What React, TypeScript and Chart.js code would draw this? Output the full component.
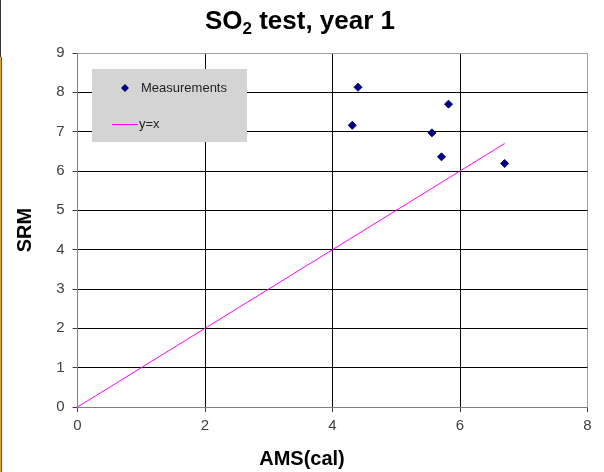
import React, { useEffect, useRef } from "react";
import { Chart, registerables } from "chart.js";

Chart.register(...registerables);

const TITLE_MAIN = "SO";
const TITLE_SUB = "2";
const TITLE_REST = " test, year 1";
const X_TITLE = "AMS(cal)";
const Y_TITLE = "SRM";
const SERIES_MEAS = "Measurements";
const SERIES_LINE = "y=x";

const measX = [4.31, 4.4, 5.56, 5.71, 5.82, 6.7];
const measY = [7.16, 8.13, 6.97, 6.36, 7.7, 6.19];
const lineX = [0, 6.7];
const lineY = [0, 6.7];

const X_MIN = 0, X_MAX = 8, X_STEP = 2;
const Y_MIN = 0, Y_MAX = 9, Y_STEP = 1;

const FONT = 'Arial, "Liberation Sans", sans-serif';

export default function App() {
  const ref = useRef<HTMLCanvasElement | null>(null);

  useEffect(() => {
    const canvas = ref.current;
    if (!canvas) return;

    const decor = {
      id: "decor",
      afterDraw(chart: any) {
        const ctx = chart.ctx as CanvasRenderingContext2D;
        ctx.save();
        // Title
        ctx.fillStyle = "#000";
        ctx.textBaseline = "alphabetic";
        ctx.textAlign = "left";
        const big = `bold 26px ${FONT}`;
        const small = `bold 17px ${FONT}`;
        ctx.font = big;
        const w1 = ctx.measureText(TITLE_MAIN).width;
        const w3 = ctx.measureText(TITLE_REST).width;
        ctx.font = small;
        const w2 = ctx.measureText(TITLE_SUB).width;
        const total = w1 + w2 + w3;
        let x = 300 - total / 2;
        ctx.font = big;
        ctx.fillText(TITLE_MAIN, x, 29);
        x += w1;
        ctx.font = small;
        ctx.fillText(TITLE_SUB, x, 34);
        x += w2;
        ctx.font = big;
        ctx.fillText(TITLE_REST, x, 29);

        // Axis titles
        ctx.font = `bold 20px ${FONT}`;
        ctx.textAlign = "center";
        ctx.fillText(X_TITLE, 302, 465);
        ctx.save();
        ctx.translate(31, 230);
        ctx.rotate(-Math.PI / 2);
        ctx.fillText(Y_TITLE, 0, 0);
        ctx.restore();

        // Legend
        ctx.fillStyle = "#d4d4d4";
        ctx.fillRect(92, 69, 155, 73);
        ctx.fillStyle = "#000080";
        ctx.beginPath();
        ctx.moveTo(125, 84);
        ctx.lineTo(129, 88);
        ctx.lineTo(125, 92);
        ctx.lineTo(121, 88);
        ctx.closePath();
        ctx.fill();
        ctx.strokeStyle = "#ff00ff";
        ctx.lineWidth = 1;
        ctx.beginPath();
        ctx.moveTo(112, 124.5);
        ctx.lineTo(138, 124.5);
        ctx.stroke();
        ctx.fillStyle = "#222";
        ctx.font = `13px ${FONT}`;
        ctx.textAlign = "left";
        ctx.textBaseline = "middle";
        ctx.fillText(SERIES_MEAS, 141, 88);
        ctx.fillText(SERIES_LINE, 139, 124);
        ctx.restore();
      },
    };

    const chart = new Chart(canvas, {
      type: "scatter",
      data: {
        datasets: [
          {
            label: SERIES_MEAS,
            data: measX.map((v, i) => ({ x: v, y: measY[i] })),
            pointStyle: "rectRot",
            pointRadius: 4,
            backgroundColor: "#000080",
            borderColor: "#000080",
            borderWidth: 1,
          },
          {
            label: SERIES_LINE,
            data: lineX.map((v, i) => ({ x: v, y: lineY[i] })),
            showLine: true,
            borderColor: "#ff00ff",
            borderWidth: 1,
            pointRadius: 0,
          },
        ],
      },
      options: {
        responsive: false,
        animation: false,
        events: [],
        layout: { padding: { top: 53, right: 16.5, left: 0, bottom: 0 } },
        plugins: {
          legend: { display: false },
          title: { display: false },
          tooltip: { enabled: false },
        },
        scales: {
          x: {
            type: "linear",
            min: X_MIN,
            max: X_MAX,
            ticks: {
              stepSize: X_STEP,
              color: "#404040",
              font: { family: FONT, size: 15 },
              padding: 5,
              maxRotation: 0,
            },
            grid: {
              color: (c: any) =>
                c.tick && (c.tick.value === X_MAX) ? "#a0a0a0" : c.tick && c.tick.value === X_MIN ? "#808080" : "#000",
              tickColor: "#404040",
              tickLength: 5,
            },
            border: { color: "#808080" },
            afterFit: (s: any) => {
              s.height = 65;
            },
          },
          y: {
            type: "linear",
            min: Y_MIN,
            max: Y_MAX,
            ticks: {
              stepSize: Y_STEP,
              color: "#404040",
              font: { family: FONT, size: 15 },
              padding: 8,
            },
            grid: {
              color: (c: any) =>
                c.tick && (c.tick.value === Y_MAX) ? "#a0a0a0" : c.tick && c.tick.value === Y_MIN ? "#808080" : "#000",
              tickColor: "#404040",
              tickLength: 5,
            },
            border: { color: "#808080" },
            afterFit: (s: any) => {
              s.width = 77.5;
            },
          },
        },
      },
      plugins: [decor],
    });
    return () => chart.destroy();
  }, []);

  return (
    <div style={{ position: "fixed", left: 0, top: 0, width: 604, height: 472, background: "#fff", overflow: "hidden" }}>
      <canvas ref={ref} width={604} height={472} style={{ width: 604, height: 472, display: "block" }} />
      <div style={{ position: "absolute", left: 0, top: 0, width: 1, height: 57, background: "#333" }} />
      <div style={{ position: "absolute", left: 0, top: 57, width: 1, height: 415, background: "#e0a050" }} />
      <div style={{ position: "absolute", left: 1, top: 57, width: 1, height: 415, background: "#555" }} />
    </div>
  );
}
